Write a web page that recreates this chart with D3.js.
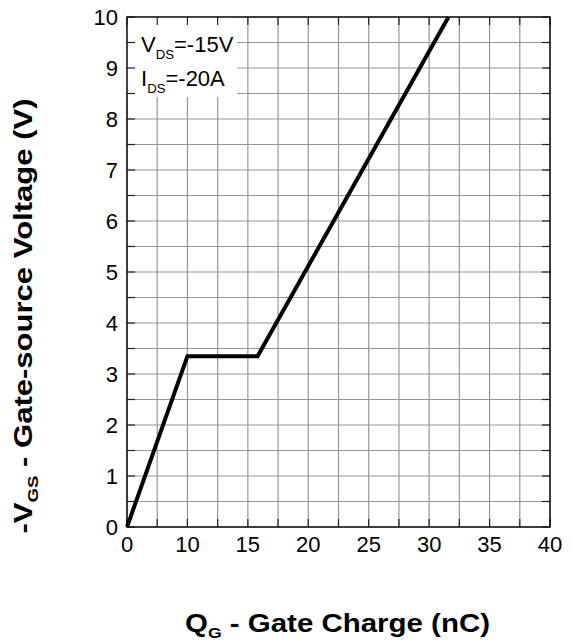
<!DOCTYPE html>
<html>
<head>
<meta charset="utf-8">
<script src="https://cdn.jsdelivr.net/npm/d3@7"></script>
<style>
  body { margin: 0; background: #fff; }
  text { font-family: "Liberation Sans", Arial, sans-serif; }
</style>
</head>
<body>
<div class="chart"></div>
<script>
// gate charge curve (x in axis-label units, y in volts)
const qg = [0, 10, 15.8, 31.6];
const vgs = [0, 3.35, 3.35, 10];

const xTicks = [0, 10, 15, 20, 25, 30, 35, 40];
const xGrid = [5, 12.5, 17.5, 22.5, 27.5, 32.5, 37.5];
const yTicks = [0, 1, 2, 3, 4, 5, 6, 7, 8, 9, 10];
const yGrid = [0.5, 1.5, 2.5, 3.5, 4.5, 5.5, 6.5, 7.5, 8.5, 9.5];

const width = 573;
const height = 644;
const margin = { top: 17, left: 127, right: 23, bottom: 117 };
const w = width - margin.left - margin.right;
const h = height - margin.top - margin.bottom;

const svg = d3
  .select(".chart")
  .append("svg")
  .attr("width", width)
  .attr("height", height);

const g = svg
  .append("g")
  .attr("transform", `translate(${margin.left}, ${margin.top})`);

// labels are evenly spaced, so 0..10 takes one step like every 5 after it
const x = d3.scaleLinear().domain([0, 10, 40]).range([0, w / 7, w]);
const y = d3.scaleLinear().domain([0, 10]).range([h, 0]);

// grid
const allX = xTicks.concat(xGrid);
const allY = yTicks.concat(yGrid);

g.append("g")
  .selectAll("line")
  .data(allX)
  .enter()
  .append("line")
  .attr("x1", (d) => x(d))
  .attr("x2", (d) => x(d))
  .attr("y1", 0)
  .attr("y2", h)
  .attr("stroke", "#959595")
  .attr("stroke-width", 1.2);

g.append("g")
  .selectAll("line")
  .data(allY)
  .enter()
  .append("line")
  .attr("x1", 0)
  .attr("x2", w)
  .attr("y1", (d) => y(d))
  .attr("y2", (d) => y(d))
  .attr("stroke", "#959595")
  .attr("stroke-width", 1.2);

// legend box hides grid
g.append("rect")
  .attr("x", 0)
  .attr("y", 0)
  .attr("width", 110)
  .attr("height", 80)
  .attr("fill", "white");

// inward ticks on all four sides
const tickLen = 8;
const ticks = g.append("g").attr("stroke", "#222").attr("stroke-width", 1.2);
allX.forEach((d) => {
  ticks.append("line").attr("x1", x(d)).attr("x2", x(d)).attr("y1", h).attr("y2", h - tickLen);
  ticks.append("line").attr("x1", x(d)).attr("x2", x(d)).attr("y1", 0).attr("y2", tickLen);
});
allY.forEach((d) => {
  ticks.append("line").attr("x1", 0).attr("x2", tickLen).attr("y1", y(d)).attr("y2", y(d));
  ticks.append("line").attr("x1", w).attr("x2", w - tickLen).attr("y1", y(d)).attr("y2", y(d));
});

// frame
g.append("rect")
  .attr("width", w)
  .attr("height", h)
  .attr("fill", "none")
  .attr("stroke", "#111")
  .attr("stroke-width", 1.5);

// curve
const line = d3
  .line()
  .x((d, i) => x(qg[i]))
  .y((d, i) => y(vgs[i]));

g.append("path")
  .datum(qg)
  .attr("d", line)
  .attr("fill", "none")
  .attr("stroke", "#000")
  .attr("stroke-width", 4)
  .attr("stroke-linejoin", "miter");

// tick labels
g.append("g")
  .selectAll("text")
  .data(xTicks)
  .enter()
  .append("text")
  .attr("x", (d) => x(d))
  .attr("y", h + 25)
  .attr("text-anchor", "middle")
  .style("font-size", "22px")
  .text((d) => d);

g.append("g")
  .selectAll("text")
  .data(yTicks)
  .enter()
  .append("text")
  .attr("x", -9)
  .attr("y", (d) => y(d) + 8)
  .attr("text-anchor", "end")
  .style("font-size", "22px")
  .text((d) => d);

// conditions
function subText(parent, px, py, size, parts) {
  const t = parent
    .append("text")
    .attr("x", px)
    .attr("y", py)
    .style("font-size", size + "px");
  parts.forEach((p) => {
    if (p.sub) {
      t.append("tspan").attr("dy", size * 0.3).style("font-size", size * 0.6 + "px").text(p.t);
    } else {
      t.append("tspan").attr("dy", p.after ? -size * 0.3 : 0).text(p.t);
    }
  });
  return t;
}

subText(g, 14, 35, 22, [{ t: "V" }, { t: "DS", sub: true }, { t: "=-15V", after: true }]);
subText(g, 14, 69, 22, [{ t: "I" }, { t: "DS", sub: true }, { t: "=-20A", after: true }]);

// axis titles
const xTitle = svg
  .append("text")
  .attr("x", margin.left + w / 2 - 1)
  .attr("y", 632)
  .attr("text-anchor", "middle")
  .attr("textLength", 305)
  .attr("lengthAdjust", "spacingAndGlyphs")
  .style("font-size", "25px")
  .style("font-weight", "bold");
xTitle.append("tspan").text("Q");
xTitle.append("tspan").attr("dy", 6).style("font-size", "15px").text("G");
xTitle.append("tspan").attr("dy", -6).text(" - Gate Charge (nC)");

const yTitle = svg
  .append("text")
  .attr("transform", "translate(32, 316) rotate(-90)")
  .attr("text-anchor", "middle")
  .attr("textLength", 435)
  .attr("lengthAdjust", "spacingAndGlyphs")
  .style("font-size", "25px")
  .style("font-weight", "bold");
yTitle.append("tspan").text("-V");
yTitle.append("tspan").attr("dy", 6).style("font-size", "15px").text("GS");
yTitle.append("tspan").attr("dy", -6).text(" - Gate-source Voltage (V)");
</script>
</body>
</html>
